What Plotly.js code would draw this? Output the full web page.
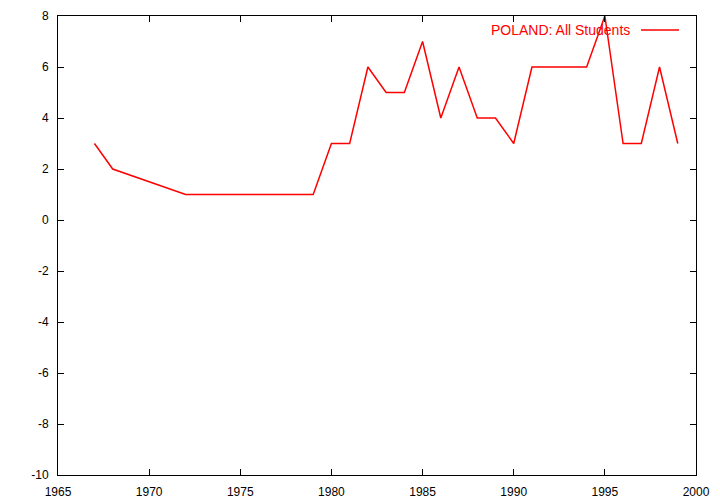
<!DOCTYPE html>
<html><head><meta charset="utf-8">
<script src="https://cdn.plot.ly/plotly-3.0.1.min.js"></script>
<style>html,body{margin:0;padding:0;background:#fff}</style>
</head><body><div id="chart" style="width:720px;height:504px"></div>
<script>
const years = [1967,1968,1972,1979,1980,1981,1982,1983,1984,1985,1986,1987,1988,1989,1990,1991,1994,1995,1996,1997,1998,1999];
const values = [3,2,1,1,3,3,6,5,5,7,4,6,4,4,3,6,6,8,3,3,6,3];
const seriesName = 'POLAND: All Students';
const xTicks = [1965,1970,1975,1980,1985,1990,1995,2000];
const yTicks = [-10,-8,-6,-4,-2,0,2,4,6,8];

const font = {family:'Liberation Sans, Arial, sans-serif', size:12, color:'#000'};
const axisCommon = {showline:true, mirror:'ticks', linecolor:'#000', linewidth:1,
  ticks:'inside', ticklen:6, tickcolor:'#000', tickwidth:1, showgrid:false, zeroline:false,
  tickfont:font, ticklabelstandoff:6};
Plotly.newPlot('chart', [{
  x: years, y: values, type:'scatter', mode:'lines', name: seriesName,
  line:{color:'#ff0000', width:1.5}
}], {
  width:720, height:504,
  margin:{l:58, r:24, t:16, b:29},
  paper_bgcolor:'#fff', plot_bgcolor:'#fff',
  showlegend:false,
  xaxis: Object.assign({}, axisCommon, {range:[1965,2000], tickvals:xTicks, ticktext:xTicks.map(String)}),
  yaxis: Object.assign({}, axisCommon, {range:[-10,8], tickvals:yTicks, ticktext:yTicks.map(String)}),
  annotations:[{xref:'paper', yref:'paper', x:(632-58)/638, y:(475-30)/459, xanchor:'right', yanchor:'middle',
    text: seriesName, showarrow:false, font:{family:font.family, size:14, color:'#ff0000'}}],
  shapes:[{type:'line', xref:'paper', yref:'paper', x0:(641-58)/638, x1:(679-58)/638,
    y0:(475-30)/459, y1:(475-30)/459, line:{color:'#ff0000', width:1.5}}]
}, {displayModeBar:false, staticPlot:true});
</script></body></html>
